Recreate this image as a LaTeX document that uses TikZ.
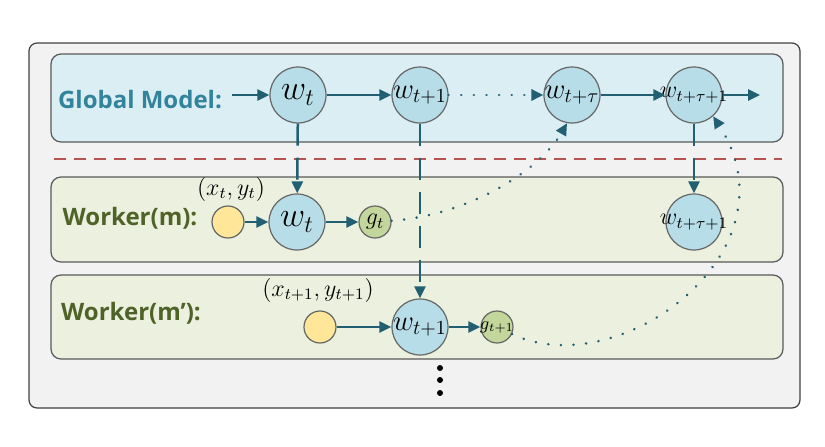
\documentclass[tikz,border=0pt]{standalone}
\usepackage{amsmath}
\usepackage{fontspec}
\setsansfont{Open Sans}
\usepackage{tikz}
\usetikzlibrary{arrows.meta}

\definecolor{flowteal}{HTML}{215F72}
\definecolor{globaltext}{HTML}{31849B}
\definecolor{workertext}{HTML}{4F6228}
\definecolor{globalfill}{HTML}{DBEEF4}
\definecolor{workerfill}{HTML}{EBF1DE}
\definecolor{outerfill}{HTML}{F2F2F2}
\definecolor{circlefill}{HTML}{B7DEE8}
\definecolor{datafill}{HTML}{FFE699}
\definecolor{gradfill}{HTML}{C3D69B}
\definecolor{splitred}{HTML}{B85450}

\newcommand{\fixw}[1]{\makebox[0pt]{#1}}

\begin{document}
\begin{tikzpicture}[x=0.5pt, y=-0.5pt,
    panel/.style={draw=black!65, line width=0.6pt, rounded corners=5pt},
    model/.style={circle, draw=black!60, line width=0.6pt, fill=circlefill,
      minimum size=28pt, inner sep=0pt, font=\Large},
    data/.style={circle, draw=black!60, line width=0.6pt, fill=datafill,
      minimum size=16pt, inner sep=0pt},
    grad/.style={circle, draw=black!60, line width=0.6pt, fill=gradfill,
      minimum size=16pt, inner sep=0pt},
    rowlabel/.style={font=\sffamily\bfseries\fontsize{12}{14}\selectfont},
    flow/.style={draw=flowteal, line width=1.25pt,
      -{Triangle[length=6pt, width=5.5pt]}},
    push/.style={flow, dash pattern=on 11pt off 6pt},
    update/.style={flow, line cap=round, line width=1.4pt,
      dash pattern=on 0.01pt off 6.3pt}]
  \useasboundingbox (0,0) rectangle (825,446);

  % panels
  \draw[panel, draw=black!75, fill=outerfill, rounded corners=4pt] (29,43) rectangle (800,408);
  \draw[panel, fill=globalfill] (51,54) rectangle (783,142);
  \draw[panel, fill=workerfill] (51,177) rectangle (783,262);
  \draw[panel, fill=workerfill] (51,275) rectangle (783,359);
  \draw[splitred, line width=1pt, dash pattern=on 6pt off 4pt] (54,159) -- (782,159);

  % row labels
  \node[rowlabel, text=globaltext] (glabel) at (140,100) {Global Model:};
  \node[rowlabel, text=workertext] (mlabel) at (130,218) {Worker(m):};
  \node[rowlabel, text=workertext] (nlabel) at (131,313) {Worker(m’):};

  % global model
  \coordinate (gin) at (232,95);
  \coordinate (gout) at (760,95);
  \node[model, font=\LARGE] (gw0) at (298,95) {$w_t$};
  \node[model] (gw1) at (420,95) {\fixw{$w_{t+1}$}};
  \node[model] (gwtau) at (572,95) {\fixw{$w_{t+\tau}$}};
  \node[model, font=\large] (gwnext) at (694,95) {\fixw{$w_{t+\tau+1}$}};

  % worker m
  \node[data] (mx) at (228,222) {};
  \node[font=\large] (mxlabel) at (231,189) {$(x_t, y_t)$};
  \node[model, font=\LARGE] (mw) at (297,222) {$w_t$};
  \node[grad, font=\large] (mg) at (375,222) {$g_t$};
  \node[model, font=\large] (mwnext) at (694,222) {\fixw{$w_{t+\tau+1}$}};

  % worker m'
  \node[data] (nx) at (320,327) {};
  \node[font=\large] (nxlabel) at (318,290) {$(x_{t+1}, y_{t+1})$};
  \node[model] (nw) at (420,327) {\fixw{$w_{t+1}$}};
  \node[grad, font=\small] (ng) at (497,327) {\fixw{$g_{t+1}$}};

  % more workers
  \foreach \y in {368,380,393}
    \fill (440,\y) circle (1.5pt);

  % connectors
  \draw[flow] (gin) -- (gw0);
  \draw[flow] (gw0) -- (gw1);
  \draw[update] (gw1) -- (gwtau);
  \draw[flow] (gwtau) -- (gwnext);
  \draw[flow] (gwnext) -- (gout);

  \draw[push] (gw0) -- (mw);
  \draw[push] (gw1) -- (nw);
  \draw[push] (gwnext) -- (mwnext);

  \draw[flow] (mx) -- (mw);
  \draw[flow] (mw) -- (mg);
  \draw[flow] (nx) -- (nw);
  \draw[flow] (nw) -- (ng);

  \draw[update] (mg) .. controls (470,215) and (540,170) .. (gwtau.260);
  \draw[update] (ng) .. controls (620,385) and (800,250) .. (gwnext.-48);
\end{tikzpicture}
\end{document}
